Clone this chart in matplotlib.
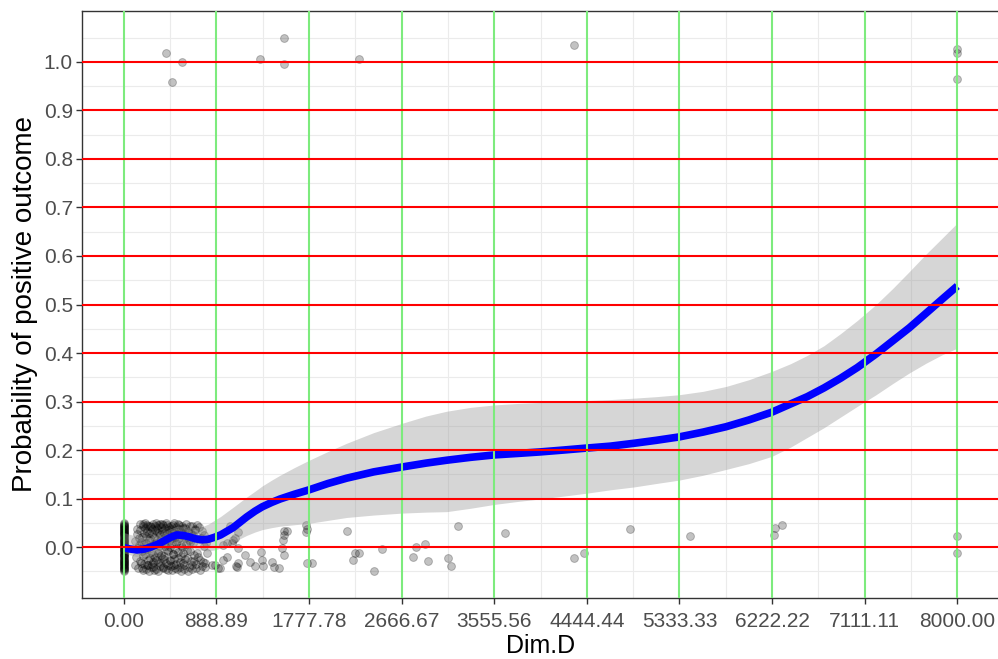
import matplotlib
matplotlib.use("Agg")
from matplotlib import pyplot as plt

plt.rcParams['font.family'] = ['Liberation Sans', 'DejaVu Sans']

# observations at Dim.D == 0 (jittered outcome only)
zero_y = [-0.049, -0.045, -0.041, -0.037, -0.034, -0.029, -0.026, -0.021, -0.017, -0.014,
          -0.009, -0.006, -0.002, 0.002, 0.005, 0.009, 0.013, 0.018, 0.022, 0.026,
          0.031, 0.034, 0.038, 0.043, 0.046, 0.049, -0.031, 0.016, -0.012, 0.041,
          -0.047, -0.043, -0.039, -0.035, -0.032, -0.028, -0.024, -0.019, -0.016, -0.011,
          -0.007, -0.004, 0.000, 0.004, 0.007, 0.011, 0.015, 0.020, 0.024, 0.028,
          0.032, 0.036, 0.040, 0.044, 0.048, -0.023, 0.027, -0.044, 0.012, 0.038]

# the crowded low range of Dim.D, outcome 0
low_x = [105, 118, 131, 142, 150, 158, 163, 171, 177, 184, 190, 196,
         203, 208, 214, 219, 225, 231, 236, 242, 247, 253, 258, 264, 270, 275, 281, 286, 292, 297,
         302, 306, 311, 317, 322, 328, 333, 339, 344, 350, 355, 361, 366, 372, 377, 383, 388, 394, 399,
         405, 411, 416, 422, 428, 433, 439, 445, 450, 456, 462, 467, 473, 479, 484, 490, 496,
         502, 508, 515, 521, 527, 533, 540, 546, 553, 559, 566, 572, 579, 586, 593,
         601, 609, 617, 624, 632, 640, 648, 656, 664, 673, 682, 691,
         702, 713, 724, 735, 747, 759, 772, 785,
         112, 126, 137, 146, 154, 161, 168, 174, 181, 187,
         193, 199, 206, 211, 217, 222, 228, 233, 239, 245,
         250, 256, 261, 267, 273, 278, 284, 289, 295, 300,
         308, 313, 319, 325, 330, 336, 342, 347, 353, 358,
         364, 369, 375, 380, 386, 391, 397, 403, 408, 414,
         419, 425, 431, 436, 442, 448, 453, 459, 465, 470,
         476, 482, 487, 493, 499, 505, 512, 518, 524, 530,
         537, 543, 550, 556, 563, 569, 576, 583, 590, 597,
         605, 613, 620, 628, 636, 644, 652, 660, 668, 677,
         686, 696, 707, 718, 730, 741, 753, 766, 779, 792]
low_y = [0.012, -0.021, 0.038, -0.044, 0.004, 0.047, -0.033, 0.021, -0.008, 0.043, -0.047, 0.029,
         -0.015, 0.049, 0.009, -0.038, 0.033, -0.026, 0.044, 0.001, -0.049, 0.018, -0.011, 0.041, -0.035, 0.026, 0.047, -0.042, 0.006, 0.036,
         -0.020, 0.049, -0.046, 0.015, 0.032, -0.030, 0.045, -0.006, 0.024, -0.039, 0.041, -0.017, 0.011, 0.048, -0.044, 0.030, -0.024, 0.003, 0.039,
         -0.032, 0.046, 0.017, -0.048, -0.009, 0.035, 0.025, -0.027, 0.044, -0.040, 0.008, 0.031, -0.014, 0.049, -0.036, 0.020, -0.003,
         0.042, -0.045, 0.013, -0.022, 0.037, 0.046, -0.031, 0.005, -0.049, 0.028, -0.012, 0.040, -0.038, 0.019, -0.025,
         0.047, -0.007, 0.033, -0.042, 0.011, 0.043, -0.028, -0.046, 0.024, -0.017, 0.038, -0.035,
         0.045, -0.020, 0.016, -0.047, 0.034, -0.031, 0.002, -0.041,
         -0.036, 0.027, -0.002, 0.019, -0.029, 0.036, 0.010, -0.043, 0.048, -0.018,
         0.007, -0.034, 0.040, -0.046, 0.023, -0.004, 0.046, -0.037, 0.014, 0.030,
         -0.022, 0.044, -0.042, 0.003, 0.037, -0.016, -0.031, 0.020, -0.047, 0.043,
         0.009, -0.027, 0.039, -0.012, -0.049, 0.028, 0.002, 0.047, -0.033, 0.016,
         -0.023, 0.034, -0.041, 0.045, 0.007, -0.018, 0.022, -0.045, 0.049, -0.007,
         0.029, -0.036, 0.012, 0.042, -0.028, 0.001, 0.037, -0.048, 0.018, -0.015,
         0.045, -0.024, 0.033, -0.043, 0.008, -0.034, 0.026, 0.048, -0.010, 0.018,
         -0.041, 0.035, -0.019, 0.044, 0.001, -0.033, 0.022, -0.046, 0.039, 0.006,
         -0.022, 0.031, -0.049, 0.015, -0.008, 0.027, -0.038, 0.044, 0.009, -0.029,
         0.036, -0.044, -0.012, 0.041, -0.026, 0.019, -0.039, 0.025, -0.033, 0.008]

# sparse observations, outcome 0
mid_x = [796, 844, 873, 902, 921, 950, 950, 988, 988, 1017, 1036, 1046, 1065, 1074, 1084, 1093, 1093, 1093,
         1161, 1209, 1257, 1314, 1324, 1333, 1420, 1439, 1487, 1516, 1525, 1535, 1535, 1563, 1535,
         1746, 1755, 1746, 1755, 1803, 2139, 2216, 2254, 2197, 2398, 2475, 2772, 2801, 2887, 2916,
         3117, 3137, 3213, 3664, 4326, 4422, 4863, 5439, 6244, 6254, 6321, 8000, 8000]
mid_y = [-0.012, -0.037, -0.037, -0.043, -0.043, -0.027, 0.004, -0.021, 0.008, 0.043, 0.008, 0.014, 0.019, -0.039, -0.041, 0.031, -0.002, -0.033,
         -0.016, -0.031, -0.039, -0.010, -0.027, -0.039, -0.031, -0.041, -0.043, -0.002, 0.014, 0.033, 0.025, 0.033, -0.016,
         0.045, 0.038, 0.031, -0.033, -0.033, 0.033, -0.012, -0.012, -0.027, -0.049, -0.004, -0.020, 0.000, 0.006, -0.029,
         -0.023, -0.039, 0.043, 0.029, -0.023, -0.012, 0.037, 0.023, 0.025, 0.039, 0.045, 0.023, -0.012]

# outcome 1
pos_x = [403, 556, 460, 1305, 1535, 1535, 2254, 4326, 8000, 8000, 8000]
pos_y = [1.019, 1.000, 0.959, 1.006, 1.049, 0.996, 1.006, 1.035, 1.027, 1.018, 0.965]

# smoothed fit and its confidence band
fit_x = [0, 60, 130, 200, 260, 330, 390, 450, 510, 570, 630, 690, 750, 810, 870, 930,
         1050, 1180, 1260, 1330, 1420, 1500, 1640, 1780, 1960, 2140, 2400, 2670, 2900, 3100,
         3330, 3560, 3780, 3990, 4220, 4440, 4670, 4900, 5110, 5330, 5560, 5780, 6000, 6220,
         6400, 6560, 6720, 6880, 7040, 7220, 7380, 7540, 7700, 7860, 8000]
fit_y = [-0.001, -0.004, -0.006, -0.004, 0.000, 0.006, 0.013, 0.020, 0.025, 0.024, 0.021, 0.017, 0.015, 0.016, 0.020, 0.025,
         0.040, 0.062, 0.074, 0.083, 0.092, 0.099, 0.109, 0.118, 0.131, 0.142, 0.155, 0.165, 0.173, 0.179,
         0.185, 0.190, 0.193, 0.196, 0.200, 0.204, 0.208, 0.214, 0.220, 0.227, 0.237, 0.248, 0.262, 0.278,
         0.295, 0.310, 0.328, 0.348, 0.370, 0.398, 0.425, 0.452, 0.482, 0.512, 0.538]
fit_hi = [0.030, 0.026, 0.022, 0.020, 0.020, 0.025, 0.031, 0.038, 0.043, 0.043, 0.041, 0.040, 0.042, 0.047, 0.055, 0.063,
          0.082, 0.103, 0.115, 0.126, 0.138, 0.148, 0.164, 0.179, 0.197, 0.214, 0.236, 0.255, 0.270, 0.280,
          0.288, 0.293, 0.296, 0.298, 0.300, 0.302, 0.304, 0.307, 0.310, 0.314, 0.321, 0.331, 0.345, 0.362,
          0.378, 0.395, 0.415, 0.440, 0.467, 0.500, 0.533, 0.568, 0.604, 0.638, 0.668]
fit_lo = [-0.012, -0.016, -0.020, -0.020, -0.017, -0.011, -0.004, 0.003, 0.007, 0.006, 0.002, -0.003, -0.007, -0.008, -0.006, -0.002,
          0.010, 0.024, 0.031, 0.036, 0.040, 0.043, 0.046, 0.049, 0.055, 0.061, 0.066, 0.070, 0.072, 0.073,
          0.080, 0.088, 0.094, 0.099, 0.105, 0.111, 0.118, 0.124, 0.131, 0.138, 0.148, 0.160, 0.172, 0.187,
          0.206, 0.226, 0.246, 0.268, 0.290, 0.314, 0.337, 0.359, 0.379, 0.397, 0.410]

x_breaks = [0.00, 888.89, 1777.78, 2666.67, 3555.56, 4444.44, 5333.33, 6222.22, 7111.11, 8000.00]
y_breaks = [0.0, 0.1, 0.2, 0.3, 0.4, 0.5, 0.6, 0.7, 0.8, 0.9, 1.0]

fig = plt.figure(figsize=(9.98, 6.59), dpi=100)
ax = fig.add_axes([82 / 998, 1 - 598 / 659, 917 / 998, 587 / 659])
ax.set_xlim(-400, 8400)
ax.set_ylim(-0.105, 1.105)

# minor grid halfway between breaks
x_minor = [(a + b) / 2 for a, b in zip(x_breaks[:-1], x_breaks[1:])]
y_minor = [-0.05] + [b + 0.05 for b in y_breaks]
for v in x_minor:
    ax.axvline(v, color='#EBEBEB', lw=0.8, zorder=0)
for v in y_minor:
    ax.axhline(v, color='#EBEBEB', lw=0.8, zorder=0)

pts_x = [0] * len(zero_y) + low_x + mid_x + pos_x
pts_y = zero_y + low_y + mid_y + pos_y
ax.scatter(pts_x, pts_y, s=32, c='black', alpha=0.24, edgecolors='black',
           linewidths=0.7, zorder=2)

ax.fill_between(fit_x, fit_lo, fit_hi, color='#999999', alpha=0.4, lw=0, zorder=3)
ax.plot(fit_x, fit_y, color='#0000FF', lw=5.5, solid_capstyle='butt',
        solid_joinstyle='round', zorder=4)

for v in x_breaks:
    ax.axvline(v, color='#7DEB7D', lw=1.5, zorder=5)
for v in y_breaks:
    ax.axhline(v, color='#FF0000', lw=1.5, zorder=6)

ax.set_xticks(x_breaks)
ax.set_xticklabels(['{:.2f}'.format(v) for v in x_breaks])
ax.set_yticks(y_breaks)
ax.set_yticklabels(['{:.1f}'.format(v) for v in y_breaks])
ax.tick_params(length=4.5, width=1, color='#333333', labelcolor='#4D4D4D', labelsize=15)
ax.tick_params(axis='x', pad=5.5)
ax.tick_params(axis='y', pad=2)

for sp in ax.spines.values():
    sp.set_color('#333333')
    sp.set_linewidth(1)

ax.set_xlabel('Dim.D', fontsize=18, labelpad=2)
ax.set_ylabel('Probability of positive outcome', fontsize=20, labelpad=4)

fig.savefig('out.png', dpi=100)
